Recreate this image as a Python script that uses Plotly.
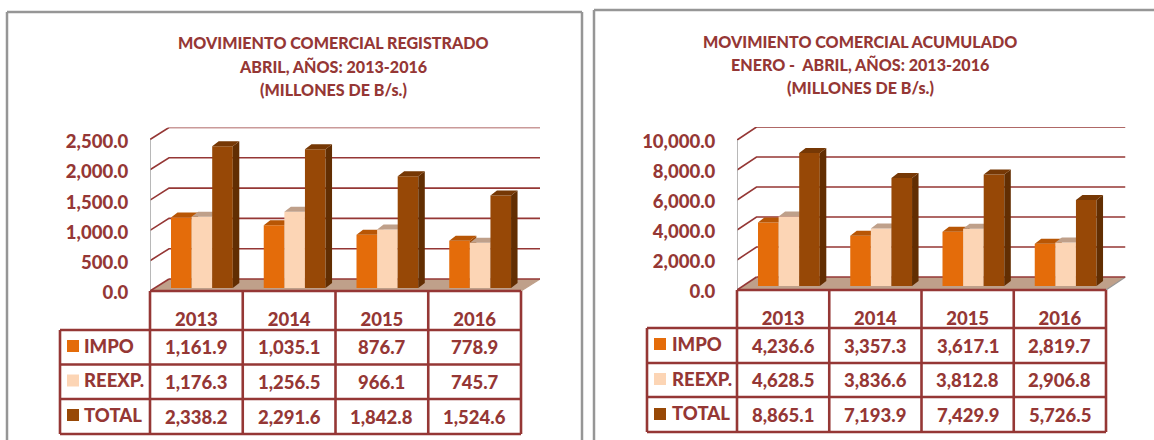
import plotly.graph_objects as go

YEARS = ["2013", "2014", "2015", "2016"]
SERIES = ["IMPO", "REEXP.", "TOTAL"]

REG_IMPO = [1161.9, 1035.1, 876.7, 778.9]
REG_REEXP = [1176.3, 1256.5, 966.1, 745.7]
REG_TOTAL = [2338.2, 2291.6, 1842.8, 1524.6]
REG_TICKS = [0, 500, 1000, 1500, 2000, 2500]
REG_TITLE = ["MOVIMIENTO COMERCIAL REGISTRADO", "ABRIL, AÑOS: 2013-2016", "(MILLONES DE B/s.)"]

ACU_IMPO = [4236.6, 3357.3, 3617.1, 2819.7]
ACU_REEXP = [4628.5, 3836.6, 3812.8, 2906.8]
ACU_TOTAL = [8865.1, 7193.9, 7429.9, 5726.5]
ACU_TICKS = [0, 2000, 4000, 6000, 8000, 10000]
ACU_TITLE = ["MOVIMIENTO COMERCIAL ACUMULADO", "ENERO -\u00a0\u00a0ABRIL, AÑOS: 2013-2016", "(MILLONES DE B/s.)"]

W, H = 1154, 440
RED = "#953735"
GRAY = "#969696"
FONT = "Lato"
WEIGHT = 900
FRONT = ["#E46C0A", "#FCD5B5", "#974806"]
TOPS = ["#B85605", "#BFA08A", "#763805"]
SIDES = ["#A04A04", "#BFA08A", "#622E02"]
FLOOR = "#BFA08A"

LAYOUTS = [
    dict(values=[REG_IMPO, REG_REEXP, REG_TOTAL], ticks=REG_TICKS, title=REG_TITLE,
         x0=150, pitch=92.75, y0=291, scale=151.5 / 2500, backdx=19, backdy=12, base=3,
         title_x=333, title_y=[42.5, 66, 89.5], rows=[330, 364.5, 399, 434], left=60,
         sw_x=67, label_x=81.5, sw_y=[340, 374.5, 409], floor_edge=FLOOR),
    dict(values=[ACU_IMPO, ACU_REEXP, ACU_TOTAL], ticks=ACU_TICKS, title=ACU_TITLE,
         x0=737, pitch=92.25, y0=290, scale=150 / 10000, backdx=19.5, backdy=13, base=4,
         title_x=860, title_y=[41.5, 64.5, 87.5], rows=[328, 363, 397, 432], left=647,
         sw_x=654, label_x=670, sw_y=[338, 373, 408], floor_edge=GRAY),
]

BAR_START, BAR_W, DEPTH_X, DEPTH_Y = 21, 20.6, 6.5, 5  # pixels


def fx(p):
    return p / W


def fy(p):
    return 1 - p / H


fig = go.Figure()
annots = []
frame_lines = [((7, 445), (7, 12)), ((7, 12), (582, 12)), ((582, 12), (582, 445)),
               ((594, 445), (594, 10)), ((594, 10), (1154, 10))]
shapes = []
for (a, b), (c, d) in frame_lines:
    shapes.append(dict(type="line", xref="paper", yref="paper", x0=fx(a), y0=fy(b), x1=fx(c), y1=fy(d),
                       line=dict(color=GRAY, width=2.5)))


def ax(i):
    return ("x" if i == 1 else f"x{i}"), ("y" if i == 1 else f"y{i}")


def ln(i):
    return ("xaxis" if i == 1 else f"xaxis{i}"), ("yaxis" if i == 1 else f"yaxis{i}")


for c, cfg in enumerate(LAYOUTS):
    n0 = c * 4 + 1
    x0, p, y0, sc = cfg["x0"], cfg["pitch"], cfg["y0"], cfg["scale"]
    xmax = 3.5 + cfg["backdx"] / p
    ymax = max(cfg["ticks"]) + cfg["backdy"] / sc
    ddx, ddy = cfg["backdx"] / p, cfg["backdy"] / sc
    dom_x = [fx(x0), fx(x0 + 4 * p + cfg["backdx"])]
    dom_y = [fy(y0), fy(y0 - ymax * sc)]

    bx, by = ax(n0)
    xn, yn = ln(n0)
    fig.update_layout({
        xn: dict(domain=dom_x, range=[-0.5, xmax], tickvals=list(range(4)), ticktext=YEARS,
                 ticks="outside", ticklen=12, tickcolor="rgba(0,0,0,0)", showgrid=False, zeroline=False,
                 showline=False, fixedrange=True, anchor=by, automargin=False,
                 tickfont=dict(family=FONT, size=18.5, color=RED, weight=WEIGHT)),
        yn: dict(domain=dom_y, range=[0, ymax], tickvals=cfg["ticks"],
                 ticktext=[f"{t:,.1f}" for t in cfg["ticks"]],
                 ticks="outside", ticklen=17, tickcolor="rgba(0,0,0,0)", showgrid=False, zeroline=False,
                 showline=False, fixedrange=True, anchor=bx, automargin=False, ticklabelshift=2,
                 tickfont=dict(family=FONT, size=18.5, color=RED, weight=WEIGHT)),
    })

    # floor
    fig.add_trace(go.Scatter(x=[-0.5, 3.5, 3.5 + ddx, -0.5 + ddx, -0.5], y=[0, 0, ddy, ddy, 0], xaxis=bx, yaxis=by,
                             mode="lines", fill="toself", fillcolor=FLOOR, line=dict(width=0),
                             hoverinfo="skip", showlegend=False))
    fig.add_trace(go.Scatter(x=[3.5, 3.5 + ddx], y=[0, ddy], xaxis=bx, yaxis=by, mode="lines",
                             line=dict(color=cfg["floor_edge"], width=1.2), hoverinfo="skip", showlegend=False))
    # wall and gridlines
    gx, gy = [], []
    for t in cfg["ticks"]:
        if t == 0:
            gx += [-0.5, -0.5 + ddx, None, -0.5 + ddx, 3.5 + ddx, None]
            gy += [0, ddy, None, ddy, ddy, None]
        else:
            gx += [-0.5, -0.5 + ddx, 3.5 + ddx, None]
            gy += [t, t + ddy, t + ddy, None]
    fig.add_trace(go.Scatter(x=gx, y=gy, xaxis=bx, yaxis=by, mode="lines", line=dict(color=RED, width=1.6),
                             hoverinfo="skip", showlegend=False, connectgaps=False))
    fig.add_trace(go.Scatter(x=[-0.5, -0.5], y=[0, max(cfg["ticks"])], xaxis=bx, yaxis=by, mode="lines",
                             line=dict(color="#A6A6A6", width=1.6), hoverinfo="skip", showlegend=False))

    # one overlaid subplot per series, so later series paint over earlier ones
    bw = BAR_W / p
    dx, dy = DEPTH_X / p, DEPTH_Y / sc
    base = cfg["base"] / sc
    for s, vals in enumerate(cfg["values"]):
        i = n0 + 1 + s
        ox, oy = ax(i)
        oxn, oyn = ln(i)
        fig.update_layout({
            oxn: dict(domain=dom_x, range=[-0.5, xmax], overlaying=bx, visible=False, fixedrange=True, anchor=oy),
            oyn: dict(domain=dom_y, range=[0, ymax], overlaying=by, visible=False, fixedrange=True, anchor=ox),
        })
        off = (BAR_START / p - 0.5) + s * bw
        fig.add_trace(go.Bar(x=list(range(4)), y=vals, base=base, offset=off, width=bw, xaxis=ox, yaxis=oy,
                             name=SERIES[s], marker=dict(color=FRONT[s], line=dict(width=0)), showlegend=False,
                             hovertemplate=SERIES[s] + " %{x}: %{y:,.1f}<extra></extra>"))
        tx, ty, sx, sy = [], [], [], []
        for k, v in enumerate(vals):
            a, b = k + off, k + off + bw
            t = v + base
            tx += [a, b, b + dx, a + dx, a, None]
            ty += [t, t, t + dy, t + dy, t, None]
            sx += [b, b + dx, b + dx, b, b, None]
            sy += [base, base + dy, t + dy, t, base, None]
        fig.add_trace(go.Scatter(x=sx, y=sy, xaxis=ox, yaxis=oy, mode="lines", fill="toself", fillcolor=SIDES[s],
                                 line=dict(width=0), hoverinfo="skip", showlegend=False))
        fig.add_trace(go.Scatter(x=tx, y=ty, xaxis=ox, yaxis=oy, mode="lines", fill="toself", fillcolor=TOPS[s],
                                 line=dict(width=0), hoverinfo="skip", showlegend=False))

    # title
    for txt, ty_ in zip(cfg["title"], cfg["title_y"]):
        annots.append(dict(text=txt, xref="paper", yref="paper", x=fx(cfg["title_x"]), y=fy(ty_), showarrow=False,
                           xanchor="center", yanchor="middle",
                           font=dict(family=FONT, size=16.1, color=RED, weight=WEIGHT)))

    # data table
    rows = cfg["rows"]
    cols = [x0 + j * p for j in range(5)]
    tl = []
    for y in rows:
        tl.append((cfg["left"], y, cols[-1], y))
    tl.append((x0, y0, cols[-1], y0))
    tl.append((cfg["left"], rows[0], cfg["left"], rows[-1]))
    for xc in cols:
        tl.append((xc, y0, xc, rows[-1]))
    for a, b, c_, d in tl:
        shapes.append(dict(type="line", xref="paper", yref="paper", x0=fx(a), y0=fy(b), x1=fx(c_), y1=fy(d),
                           line=dict(color=RED, width=2.6)))
    for s, vals in enumerate(cfg["values"]):
        mid = (rows[s] + rows[s + 1]) / 2
        shapes.append(dict(type="rect", xref="paper", yref="paper", x0=fx(cfg["sw_x"]), x1=fx(cfg["sw_x"] + 12),
                           y0=fy(cfg["sw_y"][s]), y1=fy(cfg["sw_y"][s] + 12), fillcolor=FRONT[s], line=dict(width=0)))
        annots.append(dict(text=SERIES[s], xref="paper", yref="paper", x=fx(cfg["label_x"]), y=fy(mid - 1.5),
                           showarrow=False, xanchor="left", yanchor="middle",
                           font=dict(family=FONT, size=18.5, color=RED, weight=WEIGHT)))
        for k, v in enumerate(vals):
            annots.append(dict(text=f"{v:,.1f}", xref="paper", yref="paper", x=fx(x0 + (k + 0.5) * p), y=fy(mid),
                               showarrow=False, xanchor="center", yanchor="middle",
                               font=dict(family=FONT, size=18.5, color=RED, weight=WEIGHT)))

fig.update_layout(width=W, height=H, margin=dict(l=0, r=0, t=0, b=0, pad=0, autoexpand=False), paper_bgcolor="white",
                  plot_bgcolor="rgba(0,0,0,0)", barmode="overlay", showlegend=False, shapes=shapes, annotations=annots)
fig.write_html("out.html", post_script="document.body.style.margin='0';", config={"displayModeBar": False})
